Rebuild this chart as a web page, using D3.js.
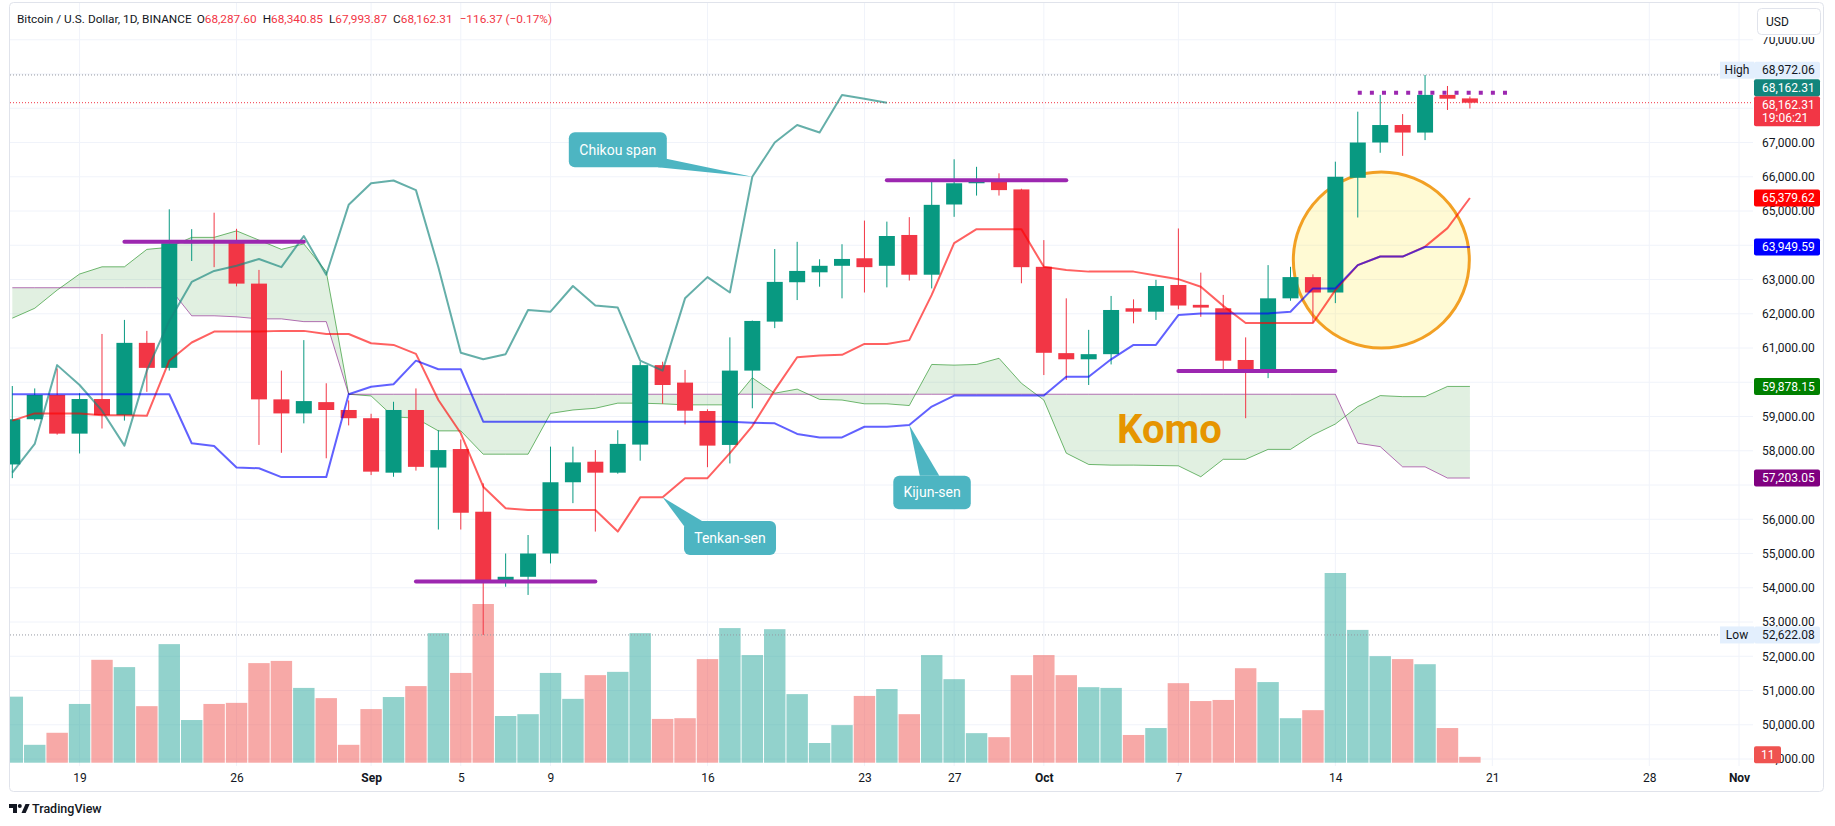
<!DOCTYPE html>
<html>
<head>
<meta charset="utf-8">
<title>BTCUSD Ichimoku</title>
<script src="https://cdn.jsdelivr.net/npm/d3@7"></script>
<style>
  html, body { margin: 0; padding: 0; background: #fff; }
  svg { display: block; font-family: Roboto, "Noto Sans", sans-serif; }
</style>
</head>
<body>
<svg id="chart" width="1835" height="826"></svg>
<script>
// daily candles, Aug 16 .. Oct 20 2024
var firstDay = "2024-08-16", lastDay = "2024-10-20";

var opens = [57600,58920,59630,58500,59510,59040,61150,60420,64060,64130,
  64100,62880,59500,59090,59420,59190,58950,57360,59190,57510,
  58050,56220,54180,54320,55000,57080,57680,57360,58180,60500,
  59990,59160,58170,60340,61770,62920,63210,63400,63620,63400,
  64300,63140,65190,65810,65860,65630,63370,60850,60670,60820,
  62160,62060,62840,62260,62160,60650,60340,62450,63070,62620,
  65970,67000,67510,67290,68390,68287.60];
var highs = [59890,59820,60400,59680,61410,61820,61500,65050,64470,64950,
  64480,63280,60340,61230,59970,59470,59080,59430,59820,58600,
  58330,57050,55000,55540,58120,58120,58020,58600,60600,60600,
  60360,59210,61310,61800,63890,64100,63590,64030,64720,64690,
  64820,65860,66510,66290,66100,65650,64150,62450,61530,62520,
  62420,62990,64490,63200,62550,61310,63420,63370,63150,66440,
  67900,68390,67830,68972.06,68650,68340.85];
var lows = [57200,58880,58470,57920,58650,58880,59720,60340,63540,63360,
  62800,58170,57940,58800,57780,58740,57290,57240,57420,55700,
  55700,52622.08,54030,53790,54710,56470,55640,57330,57710,59370,
  58770,57520,57630,59240,61580,62400,62790,62450,62620,62770,
  62970,62740,64830,65450,65450,62890,60210,60070,59920,60520,
  61720,61820,62130,61910,60380,58950,60120,62380,61740,62310,
  64810,66700,66610,67070,67950,67993.87];
var closes = [58920,59630,58500,59510,59040,61150,60420,64060,64130,64080,
  62880,59500,59090,59450,59190,58950,57390,59190,57530,58020,
  56190,54180,54320,55000,57080,57660,57360,58200,60500,59920,
  59170,58150,60340,61790,62930,63250,63400,63600,63360,64270,
  63140,65180,65810,65890,65610,63360,60860,60670,60820,62110,
  62060,62810,62240,62180,60630,60340,62450,63070,62620,66000,
  67000,67510,67290,68390,68278.68,68162.31];
// volume, thousands of BTC
var volumes = [18.1,4.9,8.2,16.1,28.2,26.2,15.5,32.5,11.7,16.1,
  16.4,27.3,27.9,20.5,17.7,4.9,14.7,18.0,21.0,35.5,
  24.6,43.5,12.8,13.3,24.6,17.5,24.0,24.9,35.5,12.0,
  12.2,28.4,36.9,29.5,36.6,18.8,5.4,10.3,18.3,20.2,
  13.3,29.5,22.9,8.1,7.0,24.0,29.5,24.0,20.7,20.5,
  7.6,9.5,21.8,16.9,17.2,25.9,22.1,12.2,14.4,52.0,
  36.4,29.2,28.4,27.0,9.5,1.6];

// ichimoku lines, one value per candle
var tenkan = [58880,59090,59090,59090,59040,59040,59020,60630,61160,61480,
  61480,61480,61500,61500,61410,61410,61140,61090,60830,59480,
  58510,56950,56320,56270,56270,56270,56270,55640,56640,56640,
  57200,57200,57930,58720,59770,60730,60780,60800,61120,61120,
  61230,62550,64060,64470,64470,64470,63370,63280,63230,63230,
  63230,63120,63010,62790,62230,61730,61730,61730,61730,62690,
  63420,63670,63670,63960,64500,65379.62];
var kijun = [59650,59650,59650,59650,59650,59650,59650,59650,58220,58140,
  57510,57490,57230,57230,57230,59650,59870,59940,60630,60380,
  60380,58850,58850,58850,58850,58850,58850,58850,58850,58850,
  58850,58850,58850,58820,58800,58490,58390,58390,58700,58700,
  58750,59290,59610,59610,59610,59610,59610,60160,60160,60670,
  61090,61090,61960,62010,62010,62010,62010,62060,62740,62740,
  63420,63670,63670,63949.59,63949.59,63949.59];
var spanA = [61870,62160,62690,63160,63370,63370,63880,63940,64230,64230,
  64420,64150,63880,64040,63230,59650,59600,58990,58950,58580,
  58580,57900,57900,57900,59090,59190,59240,59390,59390,59370,
  59340,59340,59340,60130,59680,59800,59500,59480,59370,59370,
  59320,60520,60500,60520,60700,59970,59480,57930,57600,57580,
  57580,57570,57560,57240,57750,57750,58040,58040,58460,58780,
  59290,59610,59580,59580,59878.15,59878.15];
var spanB = [62760,62760,62760,62760,62760,62760,62760,62760,61940,61940,
  61910,61850,61850,61770,61770,59650,59650,59650,59650,59650,
  59650,59650,59650,59650,59650,59650,59650,59650,59650,59650,
  59650,59650,59650,59650,59650,59650,59650,59650,59650,59650,
  59650,59650,59650,59650,59650,59650,59650,59650,59650,59650,
  59650,59650,59650,59650,59650,59650,59650,59650,59650,59650,
  58220,58120,57530,57530,57203.05,57203.05];
// lagging span, starts at the first candle
var chikou = [57360,58200,60500,59920,59170,58150,60340,61790,62930,63250,
  63400,63600,63360,64270,63140,65180,65810,65890,65610,63360,
  60860,60670,60820,62110,62060,62810,62240,62180,60630,60340,
  62450,63070,62620,66000,67000,67510,67290,68390,68278.68,68162.31];

var priceTicks = d3.range(49000, 70001, 1000);
var tickDates = ["2024-08-19","2024-08-26","2024-09-01","2024-09-05","2024-09-09",
  "2024-09-16","2024-09-23","2024-09-27","2024-10-01","2024-10-07",
  "2024-10-14","2024-10-21","2024-10-28","2024-11-01"];

// drawings on the chart (candle index + price)
var levels = [
  {from: 5, to: 13, price: 64100},
  {from: 18, to: 26, price: 54180},
  {from: 39, to: 47, price: 65900},
  {from: 52, to: 59, price: 60330},
  {from: 60, to: 67, price: 68455, dotted: true}
];
var callouts = [
  {text: "Chikou span", i: 33, line: chikou, box: [-183.5, -44.5, 98, 35], base: [[97.5, 26.5], [89, 35]]},
  {text: "Tenkan-sen", i: 29, line: tenkan, box: [21.4, 23.7, 92, 34], base: [[0, 5], [18, 0]]},
  {text: "Kijun-sen", i: 40, line: kijun, box: [-16, 50.6, 77.5, 33.6], base: [[26.5, 0], [46, 0]]}
];
var komo = {text: "Komo", i: 51.6, price: 58230};
var ring = {i: 61.05, price: 63570, r: 88};

var green = "#089981", red = "#f23645";

var svg = d3.select("#chart");
var pane = {left: 10, right: 1753, top: 3, bottom: 766};
var parseDay = d3.utcParse("%Y-%m-%d");
var days = d3.utcDay.range(parseDay(firstDay), d3.utcDay.offset(parseDay(lastDay), 1));
var last = days.length - 1;

var x = d3.scaleUtc()
    .domain([parseDay(firstDay), parseDay("2024-11-01")])
    .range([12.3, 1739]);
var step = x(days[1]) - x(days[0]);
function xi(i) { return x(days[0]) + i * step; }
var y = d3.scaleLinear().domain([49000, 70000]).range([759, 39.75]);
var yv = d3.scaleLinear().domain([0, 52]).range([762.7, 573]);

svg.append("defs").append("clipPath").attr("id", "paneClip")
  .append("rect")
    .attr("x", pane.left).attr("y", pane.top)
    .attr("width", pane.right - pane.left).attr("height", pane.bottom - pane.top);
svg.select("defs").append("clipPath").attr("id", "axisClip")
  .append("rect").attr("x", pane.right).attr("y", 37).attr("width", 80).attr("height", 728);

// grid
var grid = svg.append("g");
grid.selectAll(".hg").data(priceTicks).join("line").attr("class", "hg")
    .attr("x1", pane.left).attr("x2", pane.right)
    .attr("y1", function(d) { return y(d); }).attr("y2", function(d) { return y(d); })
    .attr("stroke", "#f0f3fa");
grid.selectAll(".vg").data(tickDates).join("line").attr("class", "vg")
    .attr("x1", function(d) { return x(parseDay(d)); }).attr("x2", function(d) { return x(parseDay(d)); })
    .attr("y1", pane.top).attr("y2", pane.bottom)
    .attr("stroke", "#f0f3fa");

var plot = svg.append("g").attr("clip-path", "url(#paneClip)");

// volume
plot.append("g").selectAll("rect").data(volumes).join("rect")
    .attr("x", function(d, i) { return x(days[i]) - step / 2 + 0.5; })
    .attr("width", step - 1)
    .attr("y", function(d) { return yv(d); })
    .attr("height", function(d) { return yv(0) - yv(d); })
    .attr("fill", function(d, i) { return closes[i] >= opens[i] ? "rgba(38,166,154,0.5)" : "rgba(239,83,80,0.5)"; });

// cloud
var cloud = d3.area()
    .x(function(d, i) { return x(days[i]); })
    .y0(function(d, i) { return y(spanB[i]); })
    .y1(function(d) { return y(d); });
plot.append("path").datum(spanA).attr("d", cloud).attr("fill", "rgba(67,160,71,0.16)");

function lineOf(arr) {
  return d3.line().x(function(d, i) { return x(days[i]); }).y(function(d) { return y(d); })(arr);
}
plot.append("path").attr("d", lineOf(spanA)).attr("fill", "none").attr("stroke", "rgba(0,128,0,0.55)").attr("stroke-width", 1);
plot.append("path").attr("d", lineOf(spanB)).attr("fill", "none").attr("stroke", "rgba(128,0,128,0.55)").attr("stroke-width", 1);

// highlighted area
plot.append("circle")
    .attr("cx", xi(ring.i)).attr("cy", y(ring.price)).attr("r", ring.r)
    .attr("fill", "rgba(255,232,60,0.22)").attr("stroke", "#f2a024").attr("stroke-width", 3);

// high / low / last price lines
var hi = d3.max(highs), lo = d3.min(lows);
[[hi, "#9598a1"], [lo, "#9598a1"], [closes[last], red]].forEach(function(p) {
  plot.append("line").attr("x1", pane.left).attr("x2", pane.right)
      .attr("y1", y(p[0])).attr("y2", y(p[0]))
      .attr("stroke", p[1]).attr("stroke-width", 1).attr("stroke-dasharray", "1 2");
});

// candles
var candles = plot.append("g").selectAll("g").data(days).join("g");
candles.append("line")
    .attr("x1", function(d) { return x(d); }).attr("x2", function(d) { return x(d); })
    .attr("y1", function(d, i) { return y(highs[i]); })
    .attr("y2", function(d, i) { return y(lows[i]); })
    .attr("stroke", function(d, i) { return closes[i] >= opens[i] ? green : red; });
candles.append("rect")
    .attr("x", function(d) { return x(d) - 8; })
    .attr("width", 16)
    .attr("y", function(d, i) { return y(Math.max(opens[i], closes[i])); })
    .attr("height", function(d, i) { return Math.max(1.5, Math.abs(y(opens[i]) - y(closes[i]))); })
    .attr("fill", function(d, i) { return closes[i] >= opens[i] ? green : red; });

// ichimoku lines
plot.append("path").attr("d", lineOf(chikou)).attr("fill", "none")
    .attr("stroke", "rgba(21,133,125,0.66)").attr("stroke-width", 2).attr("stroke-linejoin", "round");
plot.append("path").attr("d", lineOf(tenkan)).attr("fill", "none")
    .attr("stroke", "rgba(255,0,0,0.62)").attr("stroke-width", 2).attr("stroke-linejoin", "round");
plot.append("path").attr("d", lineOf(kijun)).attr("fill", "none")
    .attr("stroke", "rgba(0,0,255,0.62)").attr("stroke-width", 2).attr("stroke-linejoin", "round");

// drawn levels
plot.append("g").selectAll("line").data(levels).join("line")
    .attr("x1", function(d) { return xi(d.from); }).attr("x2", function(d) { return xi(d.to); })
    .attr("y1", function(d) { return y(d.price); }).attr("y2", function(d) { return y(d.price); })
    .attr("stroke", "#9c27b0").attr("stroke-width", 4)
    .attr("stroke-linecap", function(d) { return d.dotted ? "butt" : "round"; })
    .attr("stroke-dasharray", function(d) { return d.dotted ? "4 8.1" : null; });

// callouts
callouts.forEach(function(c) {
  var tx = xi(c.i), ty = y(c.line[c.i]);
  var bx = tx + c.box[0], by = ty + c.box[1], bw = c.box[2], bh = c.box[3];
  var g = plot.append("g");
  g.append("path")
      .attr("d", "M" + tx + "," + ty + "L" + (bx + c.base[0][0]) + "," + (by + c.base[0][1]) +
                 "L" + (bx + c.base[1][0]) + "," + (by + c.base[1][1]) + "Z")
      .attr("fill", "#4db5c2");
  g.append("rect").attr("x", bx).attr("y", by).attr("width", bw).attr("height", bh)
      .attr("rx", 6).attr("fill", "#4db5c2");
  g.append("text").attr("x", bx + bw / 2).attr("y", by + bh / 2).attr("dy", "0.35em")
      .attr("text-anchor", "middle").attr("font-size", 14).attr("fill", "#fff").text(c.text);
});

plot.append("text").attr("x", xi(komo.i)).attr("y", y(komo.price))
    .attr("text-anchor", "middle").attr("font-size", 40).attr("font-weight", "bold")
    .attr("fill", "#e69500").text(komo.text);

// labels on the price scale (centre, height, colours, text lines)
var fmt = d3.format(",.2f");
var priceTop = y(closes[last]) - 6.5;
var highCy = priceTop - 17 - 9;
var tagList = [
  {cy: priceTop + 15, h: 30, bg: red, fg: "#fff", lines: [fmt(closes[last]), "19:06:21"]},
  {cy: priceTop - 8.5, h: 17, bg: "#13857c", fg: "#fff", lines: [fmt(chikou[chikou.length - 1])]},
  {cy: highCy, h: 17, bg: "#e3effd", fg: "#131722", lines: [fmt(hi)], side: "High"},
  {cy: y(tenkan[last]), h: 17, bg: "#ff0000", fg: "#fff", lines: [fmt(tenkan[last])]},
  {cy: y(kijun[last]), h: 17, bg: "#0000ff", fg: "#fff", lines: [fmt(kijun[last])]},
  {cy: y(spanA[last]), h: 17, bg: "#008000", fg: "#fff", lines: [fmt(spanA[last])]},
  {cy: y(spanB[last]), h: 17, bg: "#800080", fg: "#fff", lines: [fmt(spanB[last])]},
  {cy: y(lo), h: 17, bg: "#e3effd", fg: "#131722", lines: [fmt(lo)], side: "Low"}
];

// price scale; tick labels sitting under a tag are left out
var shownTicks = priceTicks.filter(function(p) {
  return !tagList.some(function(t) { return Math.abs(y(p) - t.cy) < t.h / 2; });
});
var yAxis = d3.axisRight(y).tickValues(shownTicks).tickFormat(fmt).tickSize(0).tickPadding(9);
svg.append("g").attr("clip-path", "url(#axisClip)")
  .append("g").attr("transform", "translate(" + pane.right + ",0)").call(yAxis)
    .attr("font-size", 12).attr("font-family", "Roboto, sans-serif")
    .call(function(g) { g.select(".domain").remove(); })
    .selectAll("text").attr("fill", "#131722");

// time scale
var xAxis = d3.axisBottom(x).tickValues(tickDates.map(parseDay)).tickSize(0).tickPadding(7)
    .tickFormat(function(d) { return d.getUTCDate() === 1 ? d3.utcFormat("%b")(d) : d3.utcFormat("%-d")(d); });
svg.append("g").attr("transform", "translate(0," + pane.bottom + ")").call(xAxis)
    .attr("font-size", 12).attr("font-family", "Roboto, sans-serif")
    .call(function(g) { g.select(".domain").remove(); })
    .selectAll("text").attr("fill", "#131722")
    .attr("font-weight", function(d) { return d.getUTCDate() === 1 ? "bold" : null; });

var tags = svg.append("g").attr("font-size", 12);
tagList.forEach(function(t) {
  if (t.side) {
    tags.append("rect").attr("x", 1720).attr("y", t.cy - t.h / 2).attr("width", 34).attr("height", t.h)
        .attr("fill", t.bg);
    tags.append("text").attr("x", 1737).attr("y", t.cy).attr("dy", "0.35em").attr("text-anchor", "middle")
        .attr("fill", t.fg).text(t.side);
  }
  tags.append("rect").attr("x", 1754).attr("y", t.cy - t.h / 2).attr("width", 66).attr("height", t.h)
      .attr("rx", 2).attr("fill", t.bg);
  t.lines.forEach(function(s, k) {
    tags.append("text").attr("x", 1762).attr("y", t.cy - t.h / 2 + 8.5 + k * 13.5).attr("dy", "0.35em")
        .attr("fill", t.fg).text(s);
  });
});
var volCy = Math.min(yv(volumes[last]), yv(0) - 8);
tags.append("rect").attr("x", 1754).attr("y", volCy - 8.5).attr("width", 27).attr("height", 17)
    .attr("rx", 2).attr("fill", "#ef5350");
tags.append("text").attr("x", 1761).attr("y", volCy).attr("dy", "0.35em").attr("fill", "#fff").text("11");

// currency button
svg.append("rect").attr("x", 1757.5).attr("y", 8.5).attr("width", 63).attr("height", 26).attr("rx", 4)
    .attr("fill", "#fff").attr("stroke", "#e0e3eb");
svg.append("text").attr("x", 1766).attr("y", 21.5).attr("dy", "0.35em").attr("font-size", 12)
    .attr("fill", "#131722").text("USD");

// legend
var hdr = svg.append("text").attr("x", 17).attr("y", 22.5).attr("font-size", 11.8).attr("fill", "#131722");
hdr.append("tspan").text("Bitcoin / U.S. Dollar, 1D, BINANCE");
[["O", opens[last]], ["H", highs[last]], ["L", lows[last]], ["C", closes[last]]].forEach(function(p, k) {
  hdr.append("tspan").attr("dx", k ? 6 : 5).text(p[0]);
  hdr.append("tspan").attr("fill", red).text(fmt(p[1]));
});
var chg = closes[last] - closes[last - 1];
hdr.append("tspan").attr("dx", 7).attr("fill", red)
    .text(fmt(chg) + " (" + d3.format(".2f")(chg / closes[last - 1] * 100) + "%)");

// frame
svg.append("rect").attr("x", 9.5).attr("y", 2.5).attr("width", 1814).attr("height", 789).attr("rx", 4)
    .attr("fill", "none").attr("stroke", "#e0e3eb");

// logo
var logo = svg.append("g").attr("fill", "#131722");
logo.append("path").attr("d", "M9,804h8v9h-4v-5h-4z");
logo.append("circle").attr("cx", 19.8).attr("cy", 806).attr("r", 2);
logo.append("path").attr("d", "M21.5,813l4,-9h4.2l-4,9z");
logo.append("text").attr("x", 32).attr("y", 809).attr("dy", "0.35em").attr("font-size", 12.5)
    .attr("font-weight", 500).text("TradingView");
</script>
</body>
</html>
